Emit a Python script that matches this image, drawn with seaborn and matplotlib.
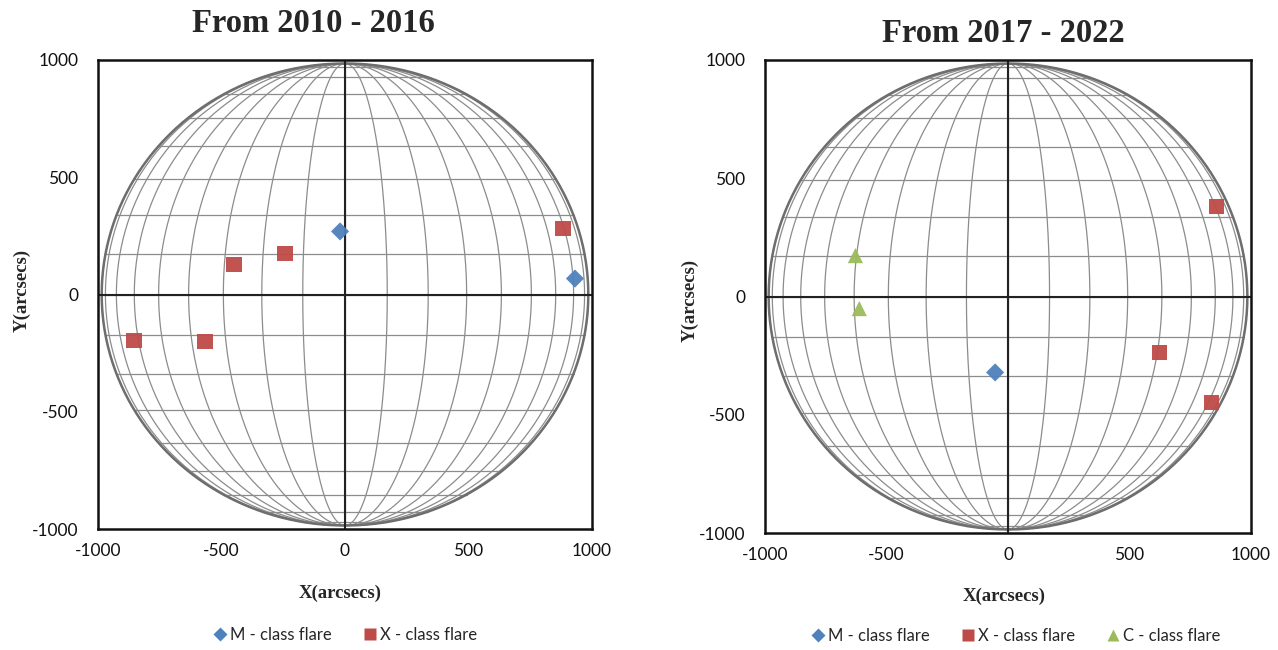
import numpy as np
import pandas as pd
import matplotlib
matplotlib.use("Agg")
import matplotlib.pyplot as plt
from matplotlib.lines import Line2D
import seaborn as sns

# ---- data (arcsec) ----
p1_m_x = [-20, 931]
p1_m_y = [269, 68]
p1_x_x = [-854, -567, -449, -243, 883]
p1_x_y = [-196, -200, 128, 175, 281]

p2_m_x = [-53]
p2_m_y = [-321]
p2_x_x = [858, 624, 838]
p2_x_y = [380, -237, -448]
p2_c_x = [-628, -612]
p2_c_y = [173, -51]

titles = ["From 2010 - 2016", "From 2017 - 2022"]
tick_vals = [-1000, -500, 0, 500, 1000]
labels = {"M": "M - class flare", "X": "X - class flare", "C": "C - class flare"}

# ---- style ----
sns.set_style("white")
plt.rcParams["font.family"] = ["Lato", "DejaVu Sans"]

colors = {"M": "#4F81BD", "X": "#BE4B48", "C": "#9BBB59"}
markers = {"M": "D", "X": "s", "C": "^"}
sizes = {"M": 85, "X": 125, "C": 120}

SUN_R = 985
STEP = 10


def draw_sphere(ax):
    lat = np.deg2rad(np.arange(-80, 81, STEP))
    for la in lat:
        xr = SUN_R * np.cos(la)
        ax.plot([-xr, xr], [SUN_R * np.sin(la)] * 2, color="#8c8c8c", lw=0.9, zorder=1)
    t = np.deg2rad(np.linspace(-90, 90, 361))
    for lo in np.deg2rad(np.arange(-90, 91, STEP)):
        ax.plot(SUN_R * np.cos(t) * np.sin(lo), SUN_R * np.sin(t), color="#8c8c8c", lw=0.9, zorder=1)
    full = np.linspace(0, 2 * np.pi, 721)
    ax.plot(SUN_R * np.cos(full), SUN_R * np.sin(full), color="#6e6e6e", lw=1.8, zorder=1)
    ax.axhline(0, color="#222222", lw=1.5, zorder=2)
    ax.axvline(0, color="#222222", lw=1.5, zorder=2)


def make_df(groups):
    rows = []
    for cls, xs, ys in groups:
        for x, y in zip(xs, ys):
            rows.append({"x": x, "y": y, "cls": cls})
    return pd.DataFrame(rows)


fig = plt.figure(figsize=(12.78, 6.5), dpi=100)
W, H = 1278, 650
ax1 = fig.add_axes([98 / W, 1 - 529 / H, (592 - 98) / W, (529 - 60) / H])
ax2 = fig.add_axes([765 / W, 1 - 533 / H, (1251 - 765) / W, (533 - 60) / H])

panels = [
    (ax1, make_df([("M", p1_m_x, p1_m_y), ("X", p1_x_x, p1_x_y)])),
    (ax2, make_df([("M", p2_m_x, p2_m_y), ("X", p2_x_x, p2_x_y), ("C", p2_c_x, p2_c_y)])),
]

for ax, df in panels:
    draw_sphere(ax)
    for cls in df["cls"].unique():
        sub = df[df["cls"] == cls]
        sns.scatterplot(data=sub, x="x", y="y", ax=ax, marker=markers[cls],
                        color=colors[cls], s=sizes[cls], edgecolor="none",
                        alpha=0.95, zorder=5, legend=False)
    ax.set_xlim(-1000, 1000)
    ax.set_ylim(-1000, 1000)
    ax.set_xticks(tick_vals)
    ax.set_yticks(tick_vals)
    ax.set_xticklabels([str(v) for v in tick_vals])
    ax.set_yticklabels([str(v) for v in tick_vals])
    ax.tick_params(axis="y", length=0, labelsize=12.5, pad=14, colors="#111111")
    ax.tick_params(axis="x", length=0, labelsize=12.5, pad=10, colors="#111111")
    ax.set_xlabel("")
    ax.set_ylabel("")
    for sp in ax.spines.values():
        sp.set_visible(True)
        sp.set_color("#111111")
        sp.set_linewidth(1.8)

serif = ["Liberation Serif", "DejaVu Serif"]
fig.text(313 / W, 1 - 24 / H, titles[0], ha="center", va="center",
         fontsize=23.5, fontweight="bold", family=serif)
fig.text(1003 / W, 1 - 33 / H, titles[1], ha="center", va="center",
         fontsize=23.5, fontweight="bold", family=serif)

fig.text(340 / W, 1 - 593 / H, "X(arcsecs)", ha="center", va="center",
         fontsize=13.5, fontweight="bold", family=serif)
fig.text(1004 / W, 1 - 596 / H, "X(arcsecs)", ha="center", va="center",
         fontsize=13.5, fontweight="bold", family=serif)
fig.text(22 / W, 1 - 290 / H, "Y(arcsecs)", ha="center", va="center", rotation=90,
         fontsize=13.5, fontweight="bold", family=serif)
fig.text(690 / W, 1 - 300 / H, "Y(arcsecs)", ha="center", va="center", rotation=90,
         fontsize=13.5, fontweight="bold", family=serif)


def handle(cls):
    return Line2D([0], [0], marker=markers[cls], color="none", markerfacecolor=colors[cls],
                  markeredgecolor="none", markersize=8 if cls != "M" else 7, label=labels[cls])


leg_kw = dict(loc="center", frameon=False, fontsize=12, handletextpad=0.1,
              columnspacing=1.8, handlelength=1.0)
fig.legend(handles=[handle("M"), handle("X")], ncol=2,
           bbox_to_anchor=(344 / W, 1 - 635 / H), **leg_kw)
fig.legend(handles=[handle("M"), handle("X"), handle("C")], ncol=3,
           bbox_to_anchor=(1015 / W, 1 - 636 / H), **leg_kw)

fig.savefig("out.png", dpi=100)
